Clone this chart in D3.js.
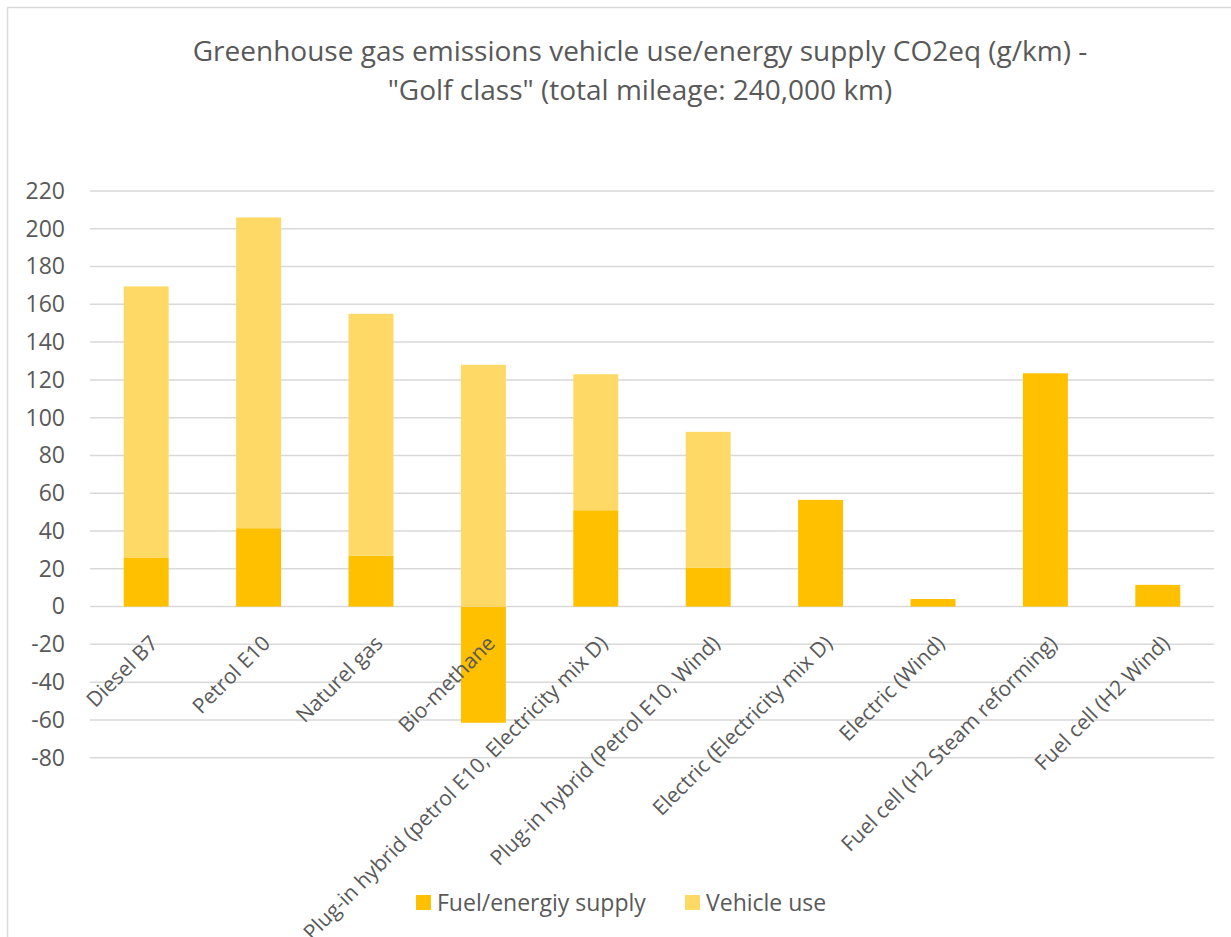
<!DOCTYPE html>
<html>
<head>
<meta charset="utf-8">
<script src="https://cdn.jsdelivr.net/npm/d3@7"></script>
<style>
  body { margin: 0; background: #fff; }
  text { font-family: "Open Sans", sans-serif; fill: #595959; }
</style>
</head>
<body>
<svg id="chart" width="1231" height="937"></svg>
<script>
// categories and series (g/km CO2eq)
const categories = ["Diesel B7", "Petrol E10", "Naturel gas", "Bio-methane",
    "Plug-in hybrid (petrol E10, Electricity mix D)", "Plug-in hybrid (Petrol E10, Wind)",
    "Electric (Electricity mix D)", "Electric (Wind)", "Fuel cell (H2 Steam reforming)", "Fuel cell (H2 Wind)"];
const fuelSupply = [26, 41.5, 27, -61.5, 51, 20.5, 56.5, 4, 123.5, 11.5];
const vehicleUse = [143.5, 164.5, 128, 128, 72, 72, 0, 0, 0, 0];
const yTicks = [-80, -60, -40, -20, 0, 20, 40, 60, 80, 100, 120, 140, 160, 180, 200, 220];
const seriesNames = ["Fuel/energiy supply", "Vehicle use"];
const colors = ["#FFC000", "#FFD966"];

const margin = { top: 191, right: 17, bottom: 180, left: 90 };
const width = 1231, height = 937;
const innerW = width - margin.left - margin.right,
      innerH = 757.7 - margin.top;

const svg = d3.select("#chart");

// chart area frame
svg.append("rect")
    .attr("x", 7.5).attr("y", 7.5)
    .attr("width", 1240).attr("height", 960)
    .attr("fill", "none")
    .attr("stroke", "#d9d9d9")
    .attr("stroke-width", 1.5);

// title
svg.append("text")
    .attr("x", 640).attr("y", 61)
    .attr("text-anchor", "middle")
    .attr("font-size", "28px")
    .selectAll("tspan")
    .data(['Greenhouse gas emissions vehicle use/energy supply CO2eq (g/km) -',
           '"Golf class" (total mileage: 240,000 km)'])
    .join("tspan")
    .attr("x", 640)
    .attr("dy", (d, i) => i ? 39 : 0)
    .text(d => d);

const g = svg.append("g")
    .attr("transform", `translate(${margin.left},${margin.top})`);

let x = d3.scaleBand().domain(categories).range([0, innerW]).paddingInner(0.6).paddingOuter(0.3);
let y = d3.scaleLinear().domain([-80, 220]).range([innerH, 0]);

// gridlines
g.append("g")
    .selectAll("line")
    .data(yTicks)
    .join("line")
    .attr("x1", 0).attr("x2", innerW)
    .attr("y1", d => y(d)).attr("y2", d => y(d))
    .attr("stroke", "#d9d9d9")
    .attr("stroke-width", 1.5);

// y axis labels (plain hyphen for negatives, like the original)
let yAxis = d3.axisLeft(y).tickValues(yTicks).tickSize(0).tickPadding(25).tickFormat(d => String(d));
g.append("g")
    .call(yAxis)
    .call(a => a.select(".domain").remove())
    .selectAll("text")
    .attr("font-size", "23px")
    .attr("font-family", "Open Sans, sans-serif")
    .style("fill", "#595959");

// stacked bars
const rows = categories.map((c, i) => ({ cat: c, fuel: fuelSupply[i], vehicle: vehicleUse[i] }));
const stack = d3.stack().keys(["fuel", "vehicle"]).offset(d3.stackOffsetDiverging);
const layers = stack(rows);

g.append("g")
    .selectAll("g")
    .data(layers)
    .join("g")
    .attr("fill", (d, i) => colors[i])
    .selectAll("rect")
    .data(d => d.filter(p => p[1] !== p[0]))
    .join("rect")
    .attr("x", d => x(d.data.cat))
    .attr("width", x.bandwidth())
    .attr("y", d => y(Math.max(d[0], d[1])))
    .attr("height", d => Math.abs(y(d[0]) - y(d[1])));

// category labels
g.append("g")
    .selectAll("text")
    .data(categories)
    .join("text")
    .attr("text-anchor", "end")
    .attr("font-size", "21px")
    .attr("transform", d => `translate(${x(d) + x.bandwidth() / 2 + 13},${y(0) + 38}) rotate(-45)`)
    .text(d => d);

// legend
const legend = svg.append("g").attr("transform", "translate(416,895)");
const legendX = [0, 269];
legend.selectAll("rect")
    .data(seriesNames)
    .join("rect")
    .attr("x", (d, i) => legendX[i])
    .attr("width", 15).attr("height", 15)
    .attr("fill", (d, i) => colors[i]);
legend.selectAll("text")
    .data(seriesNames)
    .join("text")
    .attr("x", (d, i) => legendX[i] + 21)
    .attr("y", 16)
    .attr("font-size", "23px")
    .text(d => d);
</script>
</body>
</html>
